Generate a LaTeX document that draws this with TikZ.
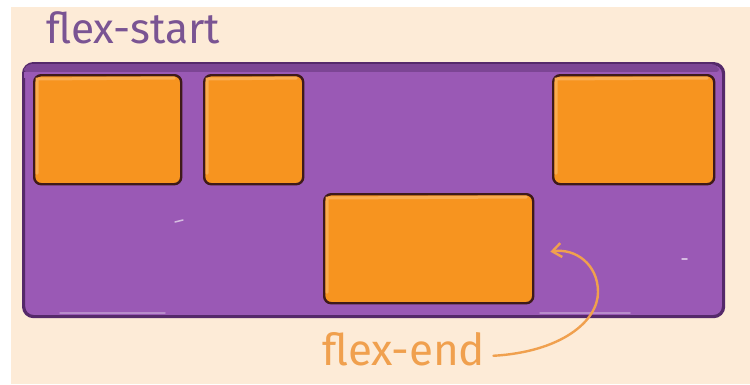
\documentclass[tikz,border=0pt]{standalone}
\usepackage{fontspec}
\setmainfont{Fira Sans}
\usetikzlibrary{arrows.meta}

\definecolor{paper}{HTML}{FDEBD7}
\definecolor{boxfill}{HTML}{9A59B5}
\definecolor{boxedge}{HTML}{55296A}
\definecolor{boxband}{HTML}{7C4594}
\definecolor{itemfill}{HTML}{F7941F}
\definecolor{itemlight}{HTML}{F9AC50}
\definecolor{itemedge}{HTML}{3E1A1A}
\definecolor{startink}{HTML}{7A5493}
\definecolor{endink}{HTML}{F0A04E}

\tikzset{
  item/.style={draw=itemedge, line width=2.4pt, fill=itemfill,
               rounded corners=7pt, inner sep=0pt, anchor=north west},
  caption/.style={inner sep=0pt, anchor=base west},
}

\begin{document}
\begin{tikzpicture}[x=1pt, y=-1pt]
  % page
  \fill[white] (0,0) rectangle (750,384);
  \fill[paper] (11,7) rectangle (750,384);
  \useasboundingbox (0,0) rectangle (750,384);

  % flex container
  \node[draw=boxedge, line width=3.2pt, fill=boxfill, rounded corners=10pt,
        minimum width=700pt, minimum height=253pt, inner sep=0pt,
        anchor=north west] (cont) at (22,62) {};
  \fill[boxband, rounded corners=8pt] (24,64) rectangle (719,75);
  \fill[boxfill] (24,72) rectangle (719,78);
  \draw[white, opacity=0.3, line width=1.5pt, line cap=round] (60,313) -- (165,313);
  \draw[white, opacity=0.3, line width=1.5pt, line cap=round] (540,313) -- (630,313);
  \draw[white, opacity=0.6, line width=1.5pt, line cap=round] (175,222) -- (183,220);
  \draw[white, opacity=0.6, line width=1.5pt, line cap=round] (682,259) -- (687,259);

  % items
  \node[item, minimum width=147pt, minimum height=109pt] (b1) at (33,74) {};
  \node[item, minimum width=99pt,  minimum height=109pt] (b2) at (203,74) {};
  \node[item, minimum width=161pt, minimum height=109pt] (b3) at (552,74) {};
  \node[item, minimum width=209pt, minimum height=109pt] (b4) at (323,193) {};

  % light edge on each item
  \foreach \b in {b1,b2,b3,b4}{
    \draw[itemlight, line width=3pt, line cap=round]
      ([shift={(4pt,12pt)}]\b.south west) -- ([shift={(4pt,-5pt)}]\b.north west)
      -- ([shift={(-8pt,-4pt)}]\b.north east);
  }

  % labels
  \node[caption, text=startink, font=\fontsize{42.5}{42.5}\selectfont] (start) at (46,43) {flex-start};
  \node[caption, text=endink, font=\fontsize{44}{44}\selectfont] (end) at (322,365) {flex-end};

  % pointer to the end-aligned item
  \coordinate (tip) at ([xshift=16pt,yshift=-3pt]b4.east);
  \draw[endink, line width=2.4pt, line cap=round,
        -{Straight Barb[length=9pt,width=14pt,line width=2.4pt]}]
    ([xshift=8pt,yshift=-7pt]end.east) .. controls (560,352) and (598,322) .. (598,292)
    .. controls (598,264) and (575,248) .. (tip);
\end{tikzpicture}
\end{document}
